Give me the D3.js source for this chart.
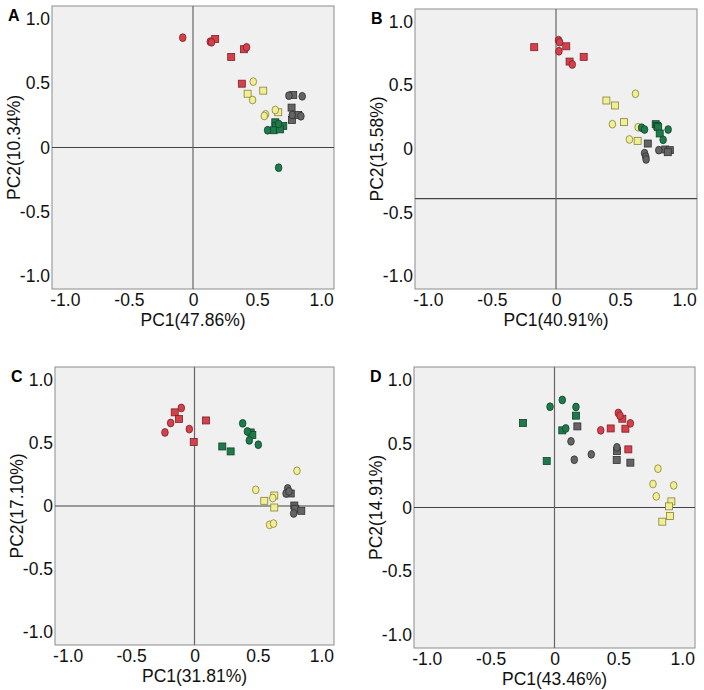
<!DOCTYPE html>
<html>
<head>
<meta charset="utf-8">
<script src="https://cdn.jsdelivr.net/npm/d3@7"></script>
<style>
  body { margin: 0; background: #fff; }
  text { font-family: "Liberation Sans", Arial, sans-serif; }
</style>
</head>
<body>
<svg id="chart" width="704" height="690"></svg>
<script>
// points: [pc1, pc2, group, shape]  (o = circle, s = square)
let panelA = [
  [-0.08, 0.854, "red", "o"], [0.135, 0.823, "red", "o"], [0.144, 0.818, "red", "o"], [0.418, 0.779, "red", "o"],
  [0.173, 0.844, "red", "s"], [0.397, 0.764, "red", "s"], [0.298, 0.704, "red", "s"], [0.381, 0.496, "red", "s"],
  [0.47, 0.512, "yellow", "o"], [0.465, 0.369, "yellow", "o"], [0.642, 0.292, "yellow", "o"], [0.566, 0.258, "yellow", "o"], [0.556, 0.245, "yellow", "o"],
  [0.548, 0.442, "yellow", "s"], [0.426, 0.418, "yellow", "s"], [0.665, 0.274, "yellow", "s"],
  [0.748, 0.403, "gray", "o"], [0.852, 0.398, "gray", "o"], [0.774, 0.253, "gray", "o"], [0.842, 0.243, "gray", "o"],
  [0.782, 0.408, "gray", "s"], [0.769, 0.31, "gray", "s"], [0.772, 0.214, "gray", "s"], [0.821, 0.253, "gray", "s"],
  [0.668, 0.183, "green", "o"], [0.582, 0.134, "green", "o"], [0.668, -0.157, "green", "o"],
  [0.642, 0.196, "green", "s"], [0.645, 0.165, "green", "s"], [0.704, 0.167, "green", "s"], [0.629, 0.134, "green", "s"], [0.678, 0.141, "green", "s"]
]
let panelB = [
  [0.02, 0.855, "red", "o"], [0.028, 0.839, "red", "o"], [0.023, 0.768, "red", "o"], [0.127, 0.664, "red", "o"],
  [-0.17, 0.80, "red", "s"], [0.08, 0.807, "red", "s"], [0.106, 0.687, "red", "s"], [0.216, 0.724, "red", "s"],
  [0.62, 0.434, "yellow", "o"], [0.44, 0.195, "yellow", "o"], [0.641, 0.171, "yellow", "o"], [0.573, 0.075, "yellow", "o"],
  [0.393, 0.381, "yellow", "s"], [0.461, 0.342, "yellow", "s"], [0.531, 0.211, "yellow", "s"], [0.637, 0.064, "yellow", "s"],
  [0.668, 0.167, "green", "o"], [0.691, 0.153, "green", "o"], [0.875, 0.153, "green", "o"], [0.836, 0.072, "green", "o"],
  [0.778, 0.195, "green", "s"], [0.79, 0.18, "green", "s"], [0.797, 0.171, "green", "s"], [0.809, 0.122, "green", "s"],
  [0.802, -0.009, "gray", "o"], [0.691, -0.033, "gray", "o"], [0.70, -0.06, "gray", "o"], [0.703, -0.082, "gray", "o"],
  [0.716, 0.043, "gray", "s"], [0.852, -0.004, "gray", "s"], [0.888, -0.009, "gray", "s"], [0.872, -0.025, "gray", "s"]
]
let panelC = [
  [-0.233, 0.582, "red", "o"], [-0.188, 0.657, "red", "o"], [-0.104, 0.776, "red", "o"], [-0.041, 0.609, "red", "o"],
  [-0.156, 0.741, "red", "s"], [-0.122, 0.689, "red", "s"], [-0.006, 0.506, "red", "s"], [0.091, 0.677, "red", "s"],
  [0.38, 0.654, "green", "o"], [0.417, 0.59, "green", "o"], [0.432, 0.519, "green", "o"], [0.503, 0.485, "green", "o"],
  [0.219, 0.471, "green", "s"], [0.285, 0.432, "green", "s"], [0.443, 0.582, "green", "s"], [0.456, 0.562, "green", "s"],
  [0.808, 0.279, "yellow", "o"], [0.483, 0.128, "yellow", "o"], [0.617, 0.063, "yellow", "o"], [0.592, -0.149, "yellow", "o"], [0.623, -0.139, "yellow", "o"],
  [0.55, 0.041, "yellow", "s"], [0.629, 0.083, "yellow", "s"], [0.629, -0.012, "yellow", "s"],
  [0.735, 0.139, "gray", "o"], [0.722, 0.099, "gray", "o"], [0.745, 0.115, "gray", "o"], [0.782, -0.059, "gray", "o"],
  [0.759, 0.099, "gray", "s"], [0.787, 0.004, "gray", "s"], [0.795, -0.022, "gray", "s"], [0.842, -0.038, "gray", "s"]
]
let panelD = [
  [-0.035, 0.789, "green", "o"], [0.061, 0.842, "green", "o"], [0.168, 0.787, "green", "o"], [0.088, 0.619, "green", "o"],
  [-0.247, 0.662, "green", "s"], [0.168, 0.719, "green", "s"], [0.061, 0.604, "green", "s"], [-0.061, 0.364, "green", "s"],
  [0.129, 0.518, "gray", "o"], [0.155, 0.374, "gray", "o"], [0.288, 0.416, "gray", "o"], [0.489, 0.471, "gray", "o"],
  [0.179, 0.635, "gray", "s"], [0.489, 0.442, "gray", "s"], [0.487, 0.372, "gray", "s"], [0.594, 0.351, "gray", "s"],
  [0.362, 0.604, "red", "o"], [0.5, 0.74, "red", "o"], [0.513, 0.719, "red", "o"], [0.594, 0.659, "red", "o"],
  [0.44, 0.619, "red", "s"], [0.531, 0.695, "red", "s"], [0.555, 0.617, "red", "s"], [0.578, 0.455, "red", "s"],
  [0.81, 0.304, "yellow", "o"], [0.771, 0.184, "yellow", "o"], [0.933, 0.173, "yellow", "o"], [0.797, 0.087, "yellow", "o"],
  [0.915, 0.048, "yellow", "s"], [0.897, 0.009, "yellow", "s"], [0.905, -0.067, "yellow", "s"], [0.844, -0.111, "yellow", "s"]
]

let panelLetters = ["A", "B", "C", "D"]
let pc1Labels = ["PC1(47.86%)", "PC1(40.91%)", "PC1(31.81%)", "PC1(43.46%)"]
let pc2Labels = ["PC2(10.34%)", "PC2(15.58%)", "PC2(17.10%)", "PC2(14.91%)"]
let hLineAt = [0, -0.39, 0, 0]
let vLineAt = [0, 0, 0, 0]
let tickValues = [-1.0, -0.5, 0, 0.5, 1.0]
let tickLabels = ["-1.0", "-0.5", "0", "0.5", "1.0"]

let fills = {red: "#d5414b", yellow: "#f2ee94", gray: "#646464", green: "#1f7a4b"}
let strokes = {red: "#7e2026", yellow: "#85823a", gray: "#303030", green: "#0f4429"}

// frame boxes of the four panels (left, top, width, height)
let boxes = [
  [52, 6, 282, 283],
  [415, 9, 282, 280],
  [55, 367, 279, 278],
  [414, 367, 281, 281]
]

let svg = d3.select("#chart")
let fmt = (d, i) => tickLabels[i]

function draw_panel(i, pts) {
  let [left, top, w, h] = boxes[i]
  let g = svg.append("g").attr("transform", `translate(${left},${top})`)

  let x = d3.scaleLinear().domain([-1.1, 1.1]).range([0, w])
  let y = d3.scaleLinear().domain([-1.1, 1.1]).range([h, 0])

  g.append("rect")
    .attr("width", w).attr("height", h)
    .attr("fill", "#f0f0f0")
    .attr("stroke", "#8c8c8c")
    .attr("stroke-width", 1)

  let xAxis = d3.axisBottom(x).tickValues(tickValues).tickFormat(fmt).tickSize(0).tickPadding(5)
  let yAxis = d3.axisLeft(y).tickValues(tickValues).tickFormat(fmt).tickSize(0).tickPadding(2)

  let gx = g.append("g").attr("transform", `translate(0,${h})`).call(xAxis)
  let gy = g.append("g").call(yAxis)
  for (let ax of [gx, gy]) {
    ax.select(".domain").remove()
    ax.selectAll("text")
      .attr("font-family", "'Liberation Sans', Arial, sans-serif")
      .attr("font-size", 17.5)
      .attr("fill", "#111")
  }

  // reference lines
  g.append("line")
    .attr("x1", 0).attr("x2", w)
    .attr("y1", y(hLineAt[i])).attr("y2", y(hLineAt[i]))
    .attr("stroke", "#444").attr("stroke-width", 1.2)
  g.append("line")
    .attr("x1", x(vLineAt[i])).attr("x2", x(vLineAt[i]))
    .attr("y1", 0).attr("y2", h)
    .attr("stroke", "#666").attr("stroke-width", 1.2)

  let s = 7
  g.selectAll(".sq")
    .data(pts.filter(d => d[3] == "s"))
    .enter()
    .append("rect")
    .attr("x", d => x(d[0]) - s / 2)
    .attr("y", d => y(d[1]) - s / 2)
    .attr("width", s).attr("height", s)
    .attr("fill", d => fills[d[2]])
    .attr("stroke", d => strokes[d[2]])
    .attr("stroke-width", 0.8)

  g.selectAll(".ci")
    .data(pts.filter(d => d[3] == "o"))
    .enter()
    .append("ellipse")
    .attr("cx", d => x(d[0]))
    .attr("cy", d => y(d[1]))
    .attr("rx", 3.3).attr("ry", 3.9)
    .attr("fill", d => fills[d[2]])
    .attr("stroke", d => strokes[d[2]])
    .attr("stroke-width", 0.8)

  g.append("text")
    .attr("x", w / 2).attr("y", h + 37)
    .attr("text-anchor", "middle")
    .attr("font-size", 17.5).attr("fill", "#111")
    .text(pc1Labels[i])

  g.append("text")
    .attr("transform", `translate(${-38},${h / 2}) rotate(-90)`)
    .attr("text-anchor", "middle")
    .attr("dominant-baseline", "central")
    .attr("font-size", 17.5).attr("fill", "#111")
    .text(pc2Labels[i])

  g.append("text")
    .attr("x", -44).attr("y", 15)
    .attr("font-size", 16).attr("font-weight", "bold").attr("fill", "#000")
    .text(panelLetters[i])
}

[panelA, panelB, panelC, panelD].forEach((pts, i) => draw_panel(i, pts))
</script>
</body>
</html>
